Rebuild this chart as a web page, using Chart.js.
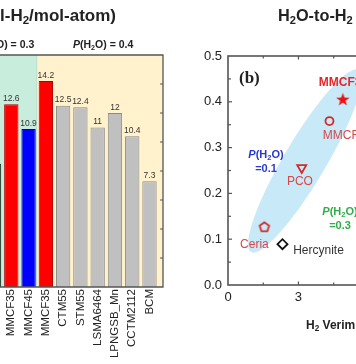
<!DOCTYPE html>
<html><head><meta charset="utf-8">
<script src="https://cdn.jsdelivr.net/npm/chart.js@4.4.1/dist/chart.umd.min.js"></script>
<style>
html,body{margin:0;padding:0;background:#fff;overflow:hidden;}
#wrap{position:relative;width:356px;height:364px;overflow:hidden;font-family:"Liberation Sans",Arial,sans-serif;color:#222;}
.t{position:absolute;white-space:nowrap;}
sub{font-size:0.68em;vertical-align:-0.3em;line-height:0;}
</style></head><body>
<div id="wrap">
  <canvas id="c1" width="178" height="364" style="position:absolute;left:0;top:0;"></canvas>
  <canvas id="c2" width="270" height="364" style="position:absolute;left:178px;top:0;"></canvas>
  <div class="t" style="left:0;top:8px;font-size:17px;font-weight:bold;line-height:16px;">l-H<sub>2</sub>/mol-atom)</div>
  <div class="t" style="left:-4px;top:39px;font-size:10.5px;font-weight:bold;line-height:11px;">O) = 0.3</div>
  <div class="t" style="left:73px;top:39px;font-size:10.5px;font-weight:bold;line-height:11px;"><i>P</i>(H<sub>2</sub>O) = 0.4</div>
  <div class="t" style="left:278px;top:7px;font-size:16.3px;font-weight:bold;line-height:16px;">H<sub>2</sub>O-to-H<sub>2</sub></div>
  <div class="t" style="left:239px;top:69px;font-size:17px;font-weight:bold;line-height:17px;font-family:'Liberation Serif','Times New Roman',serif;">(b)</div>
  <div class="t" style="left:241px;top:147px;width:50px;text-align:center;font-size:11px;font-weight:bold;line-height:14px;color:#2a3ad0;"><i>P</i>(H<sub>2</sub>O)<br>=0.1</div>
  <div class="t" style="left:315px;top:204px;width:50px;text-align:center;font-size:11px;font-weight:bold;line-height:14px;color:#2fae48;"><i>P</i>(H<sub>2</sub>O)<br>=0.3</div>
  <div class="t" style="left:306px;top:319px;font-size:12px;font-weight:bold;line-height:12px;">H<sub>2</sub> Verimi</div>
</div>
<script>
// ---------- DATA: left bar chart ----------
const barCategories = ["Hercynite","MMCF35","MMCF45","MMCF35","CTM55","STM55","LSMA6464","LPNGSB_Mn","CCTM2112","BCM"];
const barValues     = [8.5, 12.6, 10.9, 14.2, 12.5, 12.4, 11, 12, 10.4, 7.3];
const barGroups     = ["0.3","0.3","0.3","0.4","0.4","0.4","0.4","0.4","0.4","0.4"];
const barYMax = 16, barYStep = 2;

// ---------- DATA: right scatter chart ----------
const pointNames = ["MMCF35","MMCF45","PCO","Ceria","Hercynite"];
const pointX     = [4.89, 4.32, 3.14, 1.55, 2.32];
const pointY     = [0.405, 0.358, 0.256, 0.127, 0.089];
const scatterXMax = 9, scatterXStep = 1.5, scatterXLabelStep = 3;
const scatterYMax = 0.5, scatterYStep = 0.05, scatterYLabelStep = 0.1;

// ---------- STYLES ----------
const FONT = "'Liberation Sans', Arial, sans-serif";
const barFill   = ["#111111","#ff0000","#0000ff","#ff0000","#c0c0c0","#c0c0c0","#c0c0c0","#c0c0c0","#c0c0c0","#c0c0c0"];
const barBorder = ["#1c3b2c","#b00000","#00009a","#b00000","#8a8a8a","#8a8a8a","#8a8a8a","#8a8a8a","#8a8a8a","#8a8a8a"];
const groupColors = {"0.3":"#c8eddc","0.4":"#fff2cc"};

function makeStar(){
  const c=document.createElement('canvas');c.width=15;c.height=15;const g=c.getContext('2d');
  g.beginPath();
  for(let i=0;i<10;i++){const r=i%2?2.8:7;const a=-Math.PI/2+i*Math.PI/5;const x=7.5+r*Math.cos(a),y=7.8+r*Math.sin(a);i?g.lineTo(x,y):g.moveTo(x,y);}
  g.closePath();g.fillStyle="#ee1111";g.fill();return c;
}
function makePentagon(){
  const c=document.createElement('canvas');c.width=14;c.height=14;const g=c.getContext('2d');
  g.beginPath();
  for(let i=0;i<5;i++){const a=-Math.PI/2+i*2*Math.PI/5;const x=7+5*Math.cos(a),y=7.4+5*Math.sin(a);i?g.lineTo(x,y):g.moveTo(x,y);}
  g.closePath();g.strokeStyle="#d42a2a";g.lineWidth=1.8;g.stroke();return c;
}
const ptStyle  = [makeStar(),"circle","triangle",makePentagon(),"rectRot"];
const ptRadius = [7,4,5.2,6,5];
const ptRot    = [0,0,180,0,0];
const ptBorder = ["#ee1111","#d42a2a","#d42a2a","#d42a2a","#111111"];
const ptBW     = [0,1.8,1.8,1.8,1.8];
const lblStyle = [
  {dx:-24,dy:-17,align:"left",font:"bold 12px "+FONT,color:"#e8262b"},
  {dx:-6.6,dy:15,align:"left",font:"12px "+FONT,color:"#d8474a"},
  {dx:-1.8,dy:13.5,align:"center",font:"12px "+FONT,color:"#d8474a"},
  {dx:-10,dy:18.3,align:"center",font:"12px "+FONT,color:"#d8474a"},
  {dx:10.7,dy:6,align:"left",font:"12px "+FONT,color:"#333333"}
];

// ---------- LEFT CHART ----------
const firstVisible = 1, lastVisible = barCategories.length-1;
const leftPlugin = {
  id:'leftDecor',
  beforeDatasetsDraw(chart){
    const {ctx,chartArea:a,scales:{x}}=chart;
    ctx.save();
    let start=a.left;
    for(let i=0;i<barGroups.length;i++){
      if(i===barGroups.length-1 || barGroups[i+1]!==barGroups[i]){
        const end = i===barGroups.length-1 ? a.right : x.getPixelForValue(i+0.5);
        ctx.fillStyle=groupColors[barGroups[i]];
        ctx.fillRect(start,a.top,end-start,a.bottom-a.top);
        if(i<barGroups.length-1){ctx.strokeStyle="rgba(120,120,120,0.35)";ctx.lineWidth=1;ctx.beginPath();ctx.moveTo(end,a.top);ctx.lineTo(end,a.bottom);ctx.stroke();}
        start=end;
      }
    }
    ctx.restore();
  },
  afterDatasetsDraw(chart){
    const {ctx,chartArea:a,scales:{y}}=chart;
    ctx.save();
    const meta=chart.getDatasetMeta(0);
    ctx.font="8.5px "+FONT;ctx.fillStyle="#333";ctx.textAlign="center";ctx.textBaseline="bottom";
    meta.data.forEach((el,i)=>{ctx.fillText(String(barValues[i]),el.x,el.y-1.5);});
    ctx.strokeStyle="#555";ctx.lineWidth=1.3;
    ctx.beginPath();ctx.moveTo(a.left,a.top);ctx.lineTo(a.right,a.top);ctx.lineTo(a.right,a.bottom);ctx.lineTo(a.left,a.bottom);ctx.stroke();
    ctx.lineWidth=1;
    y.ticks.forEach(t=>{const py=y.getPixelForValue(t.value);if(t.value<=0||t.value>=barYMax)return;ctx.beginPath();ctx.moveTo(a.right-3,py);ctx.lineTo(a.right,py);ctx.stroke();});
    ctx.restore();
  }
};
new Chart(document.getElementById('c1'),{
  type:'bar',
  data:{datasets:[{
    data:barValues.map((v,i)=>({x:i,y:v})),
    backgroundColor:barFill,borderColor:barBorder,borderWidth:1,
    barPercentage:0.83,categoryPercentage:1
  }]},
  options:{
    responsive:false,animation:false,
    layout:{padding:{top:55,left:0,right:0,bottom:0}},
    plugins:{legend:{display:false},tooltip:{enabled:false}},
    scales:{
      x:{type:'linear',min:firstVisible-0.654,max:lastVisible+0.781,offset:false,bounds:'data',
        grid:{display:false,offset:false,drawTicks:false,tickLength:0},border:{display:false},
        afterBuildTicks(s){s.ticks=barCategories.map((c,i)=>({value:i})).filter(t=>t.value>=firstVisible);},
        afterFit(s){s.height=77;},
        ticks:{autoSkip:false,minRotation:90,maxRotation:90,padding:2,color:"#222",font:{family:FONT,size:11.5},
          callback:(v)=>barCategories[v]}
      },
      y:{position:'right',min:0,max:barYMax,ticks:{display:false,stepSize:barYStep},
        grid:{display:false,drawTicks:false},border:{display:false},afterFit(s){s.width=15;}}
    }
  },
  plugins:[leftPlugin]
});

// ---------- RIGHT CHART ----------
const ellipse = {cx:3.28, cy:0.271, a:106, b:21, angle:-59.3, color:"#c8eaf8"};
const rightPlugin = {
  id:'rightDecor',
  beforeDatasetsDraw(chart){
    const {ctx,scales:{x,y}}=chart;
    ctx.save();
    ctx.beginPath();
    ctx.ellipse(x.getPixelForValue(ellipse.cx),y.getPixelForValue(ellipse.cy),ellipse.a,ellipse.b,ellipse.angle*Math.PI/180,0,Math.PI*2);
    ctx.fillStyle=ellipse.color;ctx.fill();
    ctx.restore();
  },
  afterDatasetsDraw(chart){
    const {ctx,chartArea:a,scales:{x,y}}=chart;
    ctx.save();
    const meta=chart.getDatasetMeta(0);
    ctx.textBaseline="middle";
    meta.data.forEach((el,i)=>{const s=lblStyle[i];ctx.font=s.font;ctx.fillStyle=s.color;ctx.textAlign=s.align;ctx.fillText(pointNames[i],el.x+s.dx,el.y+s.dy);});
    ctx.strokeStyle="#555";ctx.lineWidth=1.6;
    ctx.strokeRect(a.left,a.top,a.right-a.left,a.bottom-a.top);
    ctx.lineWidth=1.2;
    y.ticks.forEach(t=>{if(t.value<=0||t.value>=scatterYMax-1e-9)return;const py=y.getPixelForValue(t.value);const major=Math.abs(t.value/scatterYLabelStep-Math.round(t.value/scatterYLabelStep))<1e-6;
      ctx.beginPath();ctx.moveTo(a.left,py);ctx.lineTo(a.left+(major?4:3),py);ctx.stroke();});
    x.ticks.forEach(t=>{if(t.value<=0||t.value>=scatterXMax)return;const px=x.getPixelForValue(t.value);const major=Math.abs(t.value/scatterXLabelStep-Math.round(t.value/scatterXLabelStep))<1e-6;const l=major?3.5:2.5;
      ctx.beginPath();ctx.moveTo(px,a.bottom);ctx.lineTo(px,a.bottom-l);ctx.moveTo(px,a.top);ctx.lineTo(px,a.top+l);ctx.stroke();});
    ctx.restore();
  }
};
new Chart(document.getElementById('c2'),{
  type:'scatter',
  data:{datasets:[{
    data:pointX.map((v,i)=>({x:v,y:pointY[i]})),
    pointStyle:ptStyle,pointRadius:ptRadius,pointRotation:ptRot,
    pointBorderColor:ptBorder,pointBorderWidth:ptBW,pointBackgroundColor:"rgba(0,0,0,0)"
  }]},
  options:{
    responsive:false,animation:false,
    layout:{padding:{top:56,right:7,left:0,bottom:0}},
    plugins:{legend:{display:false},tooltip:{enabled:false}},
    scales:{
      x:{type:'linear',min:0,max:scatterXMax,bounds:'data',grid:{display:false,drawTicks:false},border:{display:false},
        afterFit(s){s.height=79;},
        ticks:{stepSize:scatterXStep,autoSkip:false,maxRotation:0,padding:5,color:"#222",font:{family:FONT,size:13},
          callback:(v)=>Math.abs(v/scatterXLabelStep-Math.round(v/scatterXLabelStep))<1e-6?String(Math.round(v)):''}
      },
      y:{min:0,max:scatterYMax,bounds:'data',grid:{display:false,drawTicks:false},border:{display:false},
        afterFit(s){s.width=50;},
        ticks:{stepSize:scatterYStep,autoSkip:false,padding:6,color:"#222",font:{family:FONT,size:13},
          callback:(v)=>Math.abs(v/scatterYLabelStep-Math.round(v/scatterYLabelStep))<1e-6?v.toFixed(1):''}
      }
    }
  },
  plugins:[rightPlugin]
});
</script>
</body></html>
